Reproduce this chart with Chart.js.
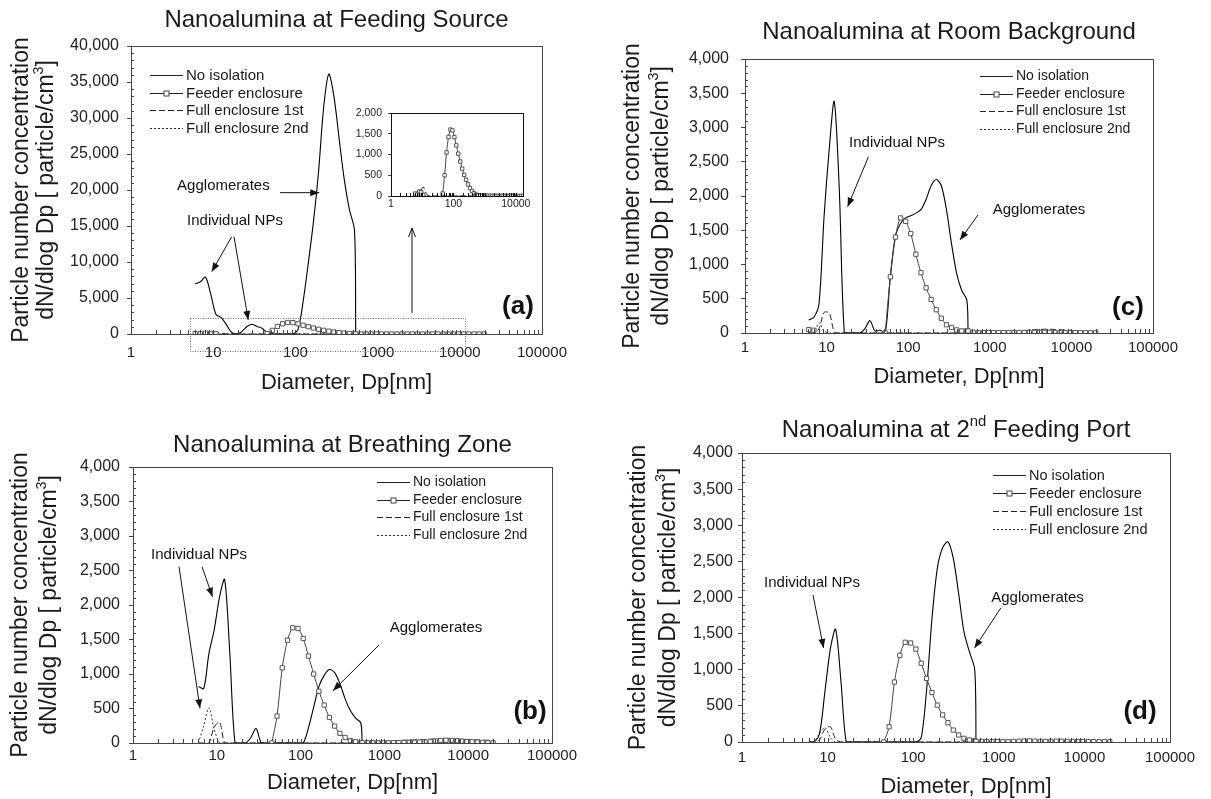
<!DOCTYPE html>
<html>
<head>
<meta charset="utf-8">
<script src="https://cdn.jsdelivr.net/npm/chart.js@4.4.0/dist/chart.umd.min.js"></script>
<style>
  html, body { margin: 0; padding: 0; background: #fff; }
  #wrap { position: relative; width: 1211px; height: 799px; }
  #wrap canvas { position: absolute; left: 0; top: 0; }
</style>
</head>
<body>
<div id="wrap">
  <canvas id="cA" width="1211" height="799"></canvas>
  <canvas id="cB" width="1211" height="799"></canvas>
  <canvas id="cC" width="1211" height="799"></canvas>
  <canvas id="cD" width="1211" height="799"></canvas>
  <canvas id="cInset" width="1211" height="799"></canvas>
</div>
<script>
// diameters (nm): SMPS channel midpoints and APS channels
const smpsD = [6.04, 6.98, 8.06, 9.31, 10.8, 12.4, 14.3, 16.5, 19.1, 22.1, 25.5, 29.4, 34.0, 39.2, 45.3, 52.3,
  60.4, 69.8, 80.6, 93.1, 107.5, 124.1, 143.3, 165.5, 191.1, 220.7, 254.8, 294.3, 339.8, 392.4, 453.2, 523.3];
const apsD = [542, 626, 723, 835, 965, 1114, 1286, 1486, 1715, 1981, 2288, 2642, 3051, 3523, 4068, 4698,
  5425, 6264, 7234, 8354, 9647, 11140, 12860, 14860, 17150, 19810];

const xTicks = [1, 10, 100, 1000, 10000, 100000];
const insetXTicks = [1, 100, 10000];

// (a) feeding source
const aNoIso = [6950, 7250, 7900, 5600, 2700, 2300, 1400, 300, 0, 300, 1000, 1350, 1050, 800, 200, 0,
  0, 0, 0, 0, 600, 4500, 9800, 15500, 22500, 31500, 36100, 33000, 27200, 21500, 17300, 14400];
const aFeed = [60, 40, 110, 90, 30, null, null, null, null, null, null, null, null, null, 60, 500,
  1050, 1420, 1600, 1580, 1420, 1220, 1020, 830, 660, 510, 390, 280, 190, 120, 70, 35];
const aFeedAps = [20, 12, 8, 6, 5, 5, 4, 4, 3, 3, 3, 3, 2, 2, 2, 2, 2, 2, 1, 1, 1, 1, 1, 1, 1, 1];
const aFull1 = [0, 20, 60, 150, 220, 120, 30, 0, 0, 0, 0, 0, 0, 0, 0, 0,
  0, 0, 0, 0, 0, 0, 0, 0, 0, 0, 0, 0, 0, 0, 0, 0];
const aFull1Aps = [2, 2, 3, 3, 4, 5, 5, 6, 6, 5, 5, 4, 4, 3, 3, 3, 2, 2, 2, 2, 2, 1, 1, 1, 1, 1];
const aFull2 = [30, 80, 120, 90, 40, 10, 0, 0, 0, 0, 0, 0, 0, 0, 0, 0,
  0, 0, 0, 0, 0, 0, 0, 0, 0, 0, 0, 0, 0, 0, 0, 0];
const aFull2Aps = [1, 1, 1, 1, 1, 1, 1, 1, 1, 1, 1, 1, 1, 1, 1, 1, 1, 1, 1, 1, 1, 1, 1, 1, 1, 1];

// (b) breathing zone
const bNoIso = [820, 790, 1300, 1640, 2120, 2370, 1300, 0, 0, 0, 80, 210, 0, 0, 0, 0,
  0, 0, 0, 0, 0, 220, 520, 820, 980, 1065, 1020, 860, 640, 470, 360, 290];
const bFeed = [null, null, null, null, null, null, null, null, null, null, null, null, null, null, 0, 390,
  1090, 1490, 1670, 1660, 1515, 1260, 1000, 750, 550, 370, 245, 140, 80, 35, 18, 5];
const bFeedAps = [5, 4, 4, 3, 3, 3, 4, 5, 6, 8, 10, 14, 18, 24, 30, 36, 40, 38, 34, 28, 22, 16, 12, 8, 5, 3];
const bFull1 = [0, 0, 0, 230, 300, 0, 0, 0, 0, 0, 0, 0, 0, 0, 0, 0,
  0, 0, 0, 0, 0, 0, 0, 0, 0, 0, 0, 0, 0, 0, 0, 0];
const bFull1Aps = [5, 10, 15, 20, 25, 30, 35, 38, 40, 42, 45, 48, 50, 55, 58, 60, 60, 58, 55, 52, 50, 48, 45, 42, 40, 38];
const bFull2 = [0, 250, 510, 200, 0, 0, 0, 0, 0, 0, 0, 0, 0, 0, 0, 0,
  0, 0, 0, 0, 0, 0, 0, 0, 0, 0, 0, 0, 0, 0, 0, 0];
const bFull2Aps = [3, 3, 4, 4, 5, 5, 6, 6, 8, 10, 12, 14, 15, 16, 16, 15, 14, 12, 10, 8, 6, 5, 4, 3, 3, 2];

// (c) room background
const cNoIso = [190, 230, 420, 1700, 2700, 3380, 2100, 0, 0, 0, 0, 60, 180, 30, 40, 0,
  820, 1420, 1600, 1680, 1710, 1750, 1800, 1950, 2150, 2240, 2150, 1800, 1300, 870, 620, 480];
const cFeed = [50, 40, null, null, null, null, null, null, null, null, null, null, null, null, null, 0,
  820, 1400, 1680, 1630, 1450, 1150, 880, 660, 490, 340, 215, 120, 80, 45, 30, 35];
const cFeedAps = [30, 10, 6, 5, 5, 5, 5, 6, 6, 7, 8, 8, 9, 10, 10, 10, 9, 8, 7, 6, 5, 5, 4, 4, 3, 3];
const cFull1 = [0, 0, 60, 300, 290, 20, 0, 0, 0, 0, 0, 0, 0, 0, 0, 0,
  0, 0, 0, 0, 0, 0, 0, 0, 0, 0, 0, 0, 0, 0, 0, 0];
const cFull1Aps = [3, 4, 5, 6, 8, 10, 12, 15, 18, 22, 28, 35, 42, 48, 52, 55, 55, 52, 48, 44, 40, 35, 30, 25, 20, 15];
const cFull2 = [0, 0, 150, 30, 0, 0, 0, 0, 0, 0, 0, 0, 0, 0, 0, 0,
  0, 0, 0, 0, 0, 0, 0, 0, 0, 0, 0, 0, 0, 0, 0, 0];
const cFull2Aps = [2, 2, 3, 3, 4, 4, 5, 5, 6, 6, 8, 10, 12, 14, 15, 15, 14, 12, 10, 8, 6, 5, 4, 3, 3, 2];

// (d) 2nd feeding port
const dNoIso = [0, 0, 120, 700, 1300, 1560, 850, 0, 0, 0, 0, 0, 0, 0, 0, 0,
  0, 0, 0, 0, 0, 60, 720, 1700, 2400, 2690, 2770, 2540, 2050, 1520, 1250, 1000];
const dFeed = [null, null, null, null, null, null, null, null, null, null, null, null, null, null, 0, 210,
  830, 1200, 1380, 1370, 1285, 1090, 880, 685, 510, 375, 268, 165, 97, 51, 28, 18];
const dFeedAps = [10, 8, 6, 5, 5, 5, 6, 8, 10, 14, 16, 12, 8, 8, 10, 12, 10, 8, 8, 6, 6, 5, 5, 4, 4, 3];
const dFull1 = [0, 0, 30, 180, 210, 40, 0, 0, 0, 0, 0, 0, 0, 0, 0, 0,
  0, 0, 0, 0, 0, 0, 0, 0, 0, 0, 0, 0, 0, 0, 0, 0];
const dFull1Aps = [2, 3, 3, 4, 5, 6, 8, 10, 12, 14, 15, 16, 18, 18, 20, 20, 18, 16, 14, 12, 10, 8, 6, 5, 4, 3];
const dFull2 = [0, 0, 120, 200, 60, 0, 0, 0, 0, 0, 0, 0, 0, 0, 0, 0,
  0, 0, 0, 0, 0, 0, 0, 0, 0, 0, 0, 0, 0, 0, 0, 0];
const dFull2Aps = [2, 2, 2, 2, 2, 2, 2, 2, 2, 2, 2, 2, 2, 2, 2, 2, 2, 2, 2, 2, 2, 2, 2, 2, 2, 2];

const FONT = '"Liberation Sans", Arial, Helvetica, sans-serif';
Chart.defaults.font.family = FONT;
Chart.defaults.color = '#222';

const yTitle = [
  [{ t: 'Particle number concentration' }],
  [{ t: 'dN/dlog Dp [ particle/cm' }, { t: '3', sup: true }, { t: ']' }]
];
const legendItems = [
  { label: 'No isolation', dash: [], marker: false },
  { label: 'Feeder enclosure', dash: [], marker: true },
  { label: 'Full enclosure 1st', dash: [6, 3] },
  { label: 'Full enclosure 2nd', dash: [2, 2] }
];

function pts(xs, ys) {
  return xs.map((x, i) => ({ x: x, y: ys[i] }));
}

function isSig(v) {
  const p = Math.pow(10, Math.floor(Math.log10(v) + 1e-9));
  const s = v / p;
  return Math.abs(s - Math.round(s)) < 1e-6;
}

function drawRich(ctx, segs, x, y, size, weight) {
  const f = s => (weight || '') + ' ' + s + 'px ' + FONT;
  const ws = segs.map(s => { ctx.font = f(s.sup ? size * 0.62 : size); return ctx.measureText(s.t).width; });
  let cx = x - ws.reduce((a, b) => a + b, 0) / 2;
  ctx.textAlign = 'left';
  ctx.textBaseline = 'middle';
  segs.forEach((s, i) => {
    ctx.font = f(s.sup ? size * 0.62 : size);
    ctx.fillText(s.t, cx, s.sup ? y - size * 0.33 : y);
    cx += ws[i];
  });
}

function arrow(ctx, x1, y1, x2, y2, open) {
  ctx.beginPath();
  ctx.moveTo(x1, y1);
  ctx.lineTo(x2, y2);
  ctx.stroke();
  const a = Math.atan2(y2 - y1, x2 - x1), L = 9, W = 3.5;
  const bx = x2 - L * Math.cos(a), by = y2 - L * Math.sin(a);
  ctx.beginPath();
  ctx.moveTo(bx + W * Math.sin(a), by - W * Math.cos(a));
  ctx.lineTo(x2, y2);
  ctx.lineTo(bx - W * Math.sin(a), by + W * Math.cos(a));
  if (open) { ctx.stroke(); } else { ctx.closePath(); ctx.fill(); }
}

function decor(p) {
  return {
    id: 'decor',
    beforeDraw(chart) {
      if (!p.inset) return;
      const a = chart.chartArea, ctx = chart.ctx;
      ctx.save();
      ctx.fillStyle = '#fff';
      ctx.fillRect(a.left, a.top, a.right - a.left, a.bottom - a.top);
      ctx.restore();
    },
    afterDraw(chart) {
      const ctx = chart.ctx, a = chart.chartArea;
      const xs = chart.scales.x, ys = chart.scales.y;
      const X = v => xs.getPixelForValue(v), Y = v => ys.getPixelForValue(v);
      ctx.save();
      ctx.strokeStyle = p.inset ? '#111' : '#444';
      ctx.fillStyle = '#111';
      ctx.lineWidth = 1;
      ctx.strokeRect(Math.round(a.left) + 0.5, Math.round(a.top) + 0.5,
        Math.round(a.right - a.left), Math.round(a.bottom - a.top));
      // inward x ticks
      xs.ticks.forEach(t => {
        if (!isSig(t.value) || t.value <= xs.min || t.value >= xs.max) return;
        const x = Math.round(X(t.value)) + 0.5;
        ctx.beginPath();
        ctx.moveTo(x, a.bottom);
        ctx.lineTo(x, a.bottom - (p.inset ? 3 : 4));
        ctx.stroke();
      });
      // inward minor y ticks
      if (p.yMinor) {
        for (let v = p.yMinor; v < p.yMax; v += p.yMinor) {
          if (v % p.yStep === 0) continue;
          const y = Math.round(Y(v)) + 0.5;
          ctx.beginPath();
          ctx.moveTo(a.left, y);
          ctx.lineTo(a.left + 3, y);
          ctx.stroke();
        }
      }
      if (p.inset) { ctx.restore(); return; }

      ctx.fillStyle = '#1a1a1a';
      const cx = (a.left + a.right) / 2, cy = (a.top + a.bottom) / 2;
      drawRich(ctx, p.title, cx, p.titleY, 24);
      drawRich(ctx, [{ t: 'Diameter, Dp[nm]' }], cx + 10, p.xTitleY, 22);
      yTitle.forEach((line, i) => {
        ctx.save();
        ctx.translate(p.yTitleX[i], cy);
        ctx.rotate(-Math.PI / 2);
        drawRich(ctx, line, 0, 0, 23);
        ctx.restore();
      });

      // legend
      const lg = p.legend;
      legendItems.forEach((it, i) => {
        const y = Math.round(lg.y + i * lg.dy) + 0.5;
        ctx.strokeStyle = '#222';
        ctx.setLineDash(it.dash);
        ctx.beginPath();
        ctx.moveTo(lg.x, y);
        ctx.lineTo(lg.x + 33, y);
        ctx.stroke();
        ctx.setLineDash([]);
        if (it.marker) {
          ctx.fillStyle = '#fff';
          ctx.fillRect(lg.x + 14, y - 2.5, 5, 5);
          ctx.strokeStyle = '#444';
          ctx.strokeRect(lg.x + 14, y - 2.5, 5, 5);
        }
        ctx.fillStyle = '#1a1a1a';
        ctx.font = lg.size + 'px ' + FONT;
        ctx.textAlign = 'left';
        ctx.textBaseline = 'middle';
        ctx.fillText(it.label, lg.x + 36, y);
      });

      // annotations
      ctx.strokeStyle = '#111';
      ctx.fillStyle = '#111';
      p.notes.forEach(n => drawRich(ctx, [{ t: n.text }], X(n.x), Y(n.y), 15));
      p.arrows.forEach(r => arrow(ctx, X(r.x1), Y(r.y1), X(r.x2), Y(r.y2), r.open));
      if (p.rect) {
        ctx.setLineDash([1, 1.5]);
        ctx.strokeStyle = '#666';
        const x1 = Math.round(X(p.rect.x1)) + 0.5, x2 = Math.round(X(p.rect.x2)) + 0.5;
        const y1 = Math.round(Y(p.rect.y1)) + 0.5, y2 = Math.round(Y(p.rect.y2)) + 0.5;
        ctx.strokeRect(x1, y1, x2 - x1, y2 - y1);
        ctx.setLineDash([]);
      }
      drawRich(ctx, [{ t: p.letter.text }], X(p.letter.x), Y(p.letter.y), 26, 'bold');
      ctx.restore();
    }
  };
}

function datasets(p, withNoIso) {
  const sets = [{
    label: 'Feeder enclosure',
    data: pts(smpsD.concat(apsD), p.feed.concat(p.feedAps)),
    borderColor: '#444', borderWidth: 1, tension: 0.3,
    pointStyle: 'rect', pointRadius: p.inset ? 2.4 : 3, pointBackgroundColor: '#fff',
    pointBorderColor: '#555', pointBorderWidth: 1
  }];
  if (withNoIso) {
    sets.push({
      label: 'No isolation',
      data: pts(smpsD.concat([apsD[0]]), p.noIso.concat([0])),
      borderColor: '#000', borderWidth: 1.1, pointRadius: 0, tension: 0.3
    });
  }
  sets.push({
    label: 'Full enclosure 1st',
    data: pts(smpsD.concat(apsD), p.full1.concat(p.full1Aps)),
    borderColor: '#222', borderWidth: 1, borderDash: [6, 3], pointRadius: 0, tension: 0.3
  });
  sets.push({
    label: 'Full enclosure 2nd',
    data: pts(smpsD.concat(apsD), p.full2.concat(p.full2Aps)),
    borderColor: '#333', borderWidth: 1, borderDash: [2, 2], pointRadius: 0, tension: 0.3
  });
  return sets;
}

function makePanel(p) {
  const labels = p.inset ? insetXTicks : xTicks;
  const xSize = p.inset ? 10.5 : 15;
  const ySize = p.inset ? 10.5 : 16;
  return new Chart(document.getElementById(p.id), {
    type: 'line',
    data: { datasets: datasets(p, !p.inset) },
    options: {
      responsive: false,
      animation: false,
      events: [],
      layout: { padding: { left: 0, top: p.area.t, right: 1211 - p.area.r, bottom: 799 - p.area.b - 40 } },
      plugins: { legend: { display: false }, tooltip: { enabled: false }, title: { display: false } },
      scales: {
        x: {
          type: 'logarithmic', min: 1, max: p.xMax,
          afterFit: s => { s.height = 40; },
          grid: { drawOnChartArea: false, drawTicks: false, color: '#444' },
          border: { display: true, color: p.inset ? '#111' : '#444' },
          ticks: {
            autoSkip: false, maxRotation: 0, minRotation: 0, padding: p.xPad,
            font: { size: xSize }, color: '#222',
            callback: v => (labels.includes(v) ? String(v) : '')
          }
        },
        y: {
          type: 'linear', min: 0, max: p.yMax,
          afterFit: s => { s.width = p.area.l; },
          grid: { drawOnChartArea: false, drawTicks: true, tickLength: p.inset ? 3 : 4, color: '#444' },
          border: { display: true, color: p.inset ? '#111' : '#444' },
          ticks: {
            stepSize: p.yStep, padding: p.yPad, font: { size: ySize }, color: '#222',
            callback: v => v.toLocaleString('en-US')
          }
        }
      }
    },
    plugins: [decor(p)]
  });
}

makePanel({
  id: 'cA', area: { l: 131, t: 46, r: 542, b: 334 }, xMax: 100000, yMax: 40000, yStep: 5000, yMinor: 1000,
  xPad: 10, yPad: 8,
  noIso: aNoIso, feed: aFeed, feedAps: aFeedAps, full1: aFull1, full1Aps: aFull1Aps, full2: aFull2, full2Aps: aFull2Aps,
  title: [{ t: 'Nanoalumina at Feeding Source' }], titleY: 20, xTitleY: 383, yTitleX: [22, 47],
  legend: { x: 150, y: 75, dy: 17.5, size: 15 },
  notes: [{ text: 'Agglomerates', x: 13.3, y: 20560 }, { text: 'Individual NPs', x: 18.4, y: 15700 }],
  arrows: [
    { x1: 65, y1: 19630, x2: 195, y2: 19630 },
    { x1: 16.8, y1: 13520, x2: 9.6, y2: 8650 },
    { x1: 17.9, y1: 13520, x2: 26.7, y2: 1945 },
    { x1: 2620, y1: 2917, x2: 2620, y2: 14720, open: true }
  ],
  rect: { x1: 5.22, x2: 11560, y1: 2222, y2: -2361 },
  letter: { text: '(a)', x: 51000, y: 3750 }
});

makePanel({
  id: 'cB', area: { l: 133, t: 467, r: 552, b: 743 }, xMax: 100000, yMax: 4000, yStep: 500, yMinor: 100,
  xPad: 4, yPad: 9,
  noIso: bNoIso, feed: bFeed, feedAps: bFeedAps, full1: bFull1, full1Aps: bFull1Aps, full2: bFull2, full2Aps: bFull2Aps,
  title: [{ t: 'Nanoalumina at Breathing Zone' }], titleY: 445, xTitleY: 783, yTitleX: [21, 50],
  legend: { x: 377, y: 482, dy: 17.7, size: 14 },
  notes: [{ text: 'Individual NPs', x: 6.13, y: 2724 }, { text: 'Agglomerates', x: 4130, y: 1666 }],
  arrows: [
    { x1: 6.66, y1: 2555, x2: 8.89, y2: 2120 },
    { x1: 3.54, y1: 2555, x2: 6.3, y2: 503 },
    { x1: 863, y1: 1420, x2: 244, y2: 758 }
  ],
  letter: { text: '(b)', x: 54600, y: 449 }
});

makePanel({
  id: 'cC', area: { l: 745, t: 59, r: 1153, b: 333 }, xMax: 100000, yMax: 4000, yStep: 500, yMinor: 100,
  xPad: 6, yPad: 12,
  noIso: cNoIso, feed: cFeed, feedAps: cFeedAps, full1: cFull1, full1Aps: cFull1Aps, full2: cFull2, full2Aps: cFull2Aps,
  title: [{ t: 'Nanoalumina at Room Background' }], titleY: 32, xTitleY: 377, yTitleX: [633, 662],
  legend: { x: 980, y: 76, dy: 17.5, size: 14 },
  notes: [{ text: 'Individual NPs', x: 72.9, y: 2774 }, { text: 'Agglomerates', x: 4010, y: 1796 }],
  arrows: [
    { x1: 32.6, y1: 2574, x2: 18.1, y2: 1844 },
    { x1: 717, y1: 1723, x2: 431, y2: 1358 }
  ],
  letter: { text: '(c)', x: 49400, y: 365 }
});

makePanel({
  id: 'cD', area: { l: 742, t: 453, r: 1170, b: 742 }, xMax: 100000, yMax: 4000, yStep: 500, yMinor: 100,
  xPad: 7, yPad: 5,
  noIso: dNoIso, feed: dFeed, feedAps: dFeedAps, full1: dFull1, full1Aps: dFull1Aps, full2: dFull2, full2Aps: dFull2Aps,
  title: [{ t: 'Nanoalumina at 2' }, { t: 'nd', sup: true }, { t: ' Feeding Port' }], titleY: 430, xTitleY: 787,
  yTitleX: [639, 669],
  legend: { x: 993, y: 475, dy: 18, size: 14.5 },
  notes: [{ text: 'Individual NPs', x: 6.57, y: 2200 }, { text: 'Agglomerates', x: 2830, y: 1993 }],
  arrows: [
    { x1: 6.75, y1: 2035, x2: 8.98, y2: 1301 },
    { x1: 1055, y1: 1855, x2: 521, y2: 1301 }
  ],
  letter: { text: '(d)', x: 44600, y: 415 }
});

// inset of panel (a): zoom on the low range
makePanel({
  id: 'cInset', inset: true, area: { l: 391, t: 113, r: 523, b: 196 }, xMax: 17000, yMax: 2000, yStep: 500,
  xPad: 2, yPad: 6,
  feed: aFeed, feedAps: aFeedAps, full1: aFull1, full1Aps: aFull1Aps, full2: aFull2, full2Aps: aFull2Aps
});
</script>
</body>
</html>
